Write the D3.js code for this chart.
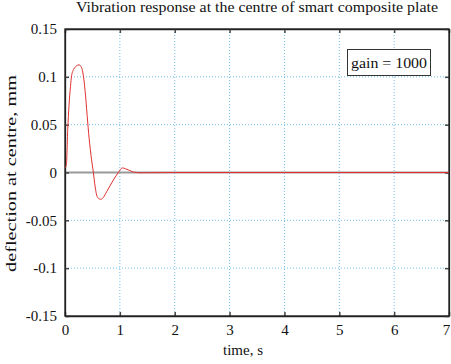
<!DOCTYPE html>
<html>
<head>
<meta charset="utf-8">
<script src="https://cdn.jsdelivr.net/npm/d3@7"></script>
<style>
  body { margin: 0; background: #fff; }
  text { font-family: "Liberation Serif", "DejaVu Serif", serif; fill: #111; }
</style>
</head>
<body>
<div id="chart"></div>
<script>
// values
const time = [0, 0.025, 0.05, 0.073, 0.1, 0.12, 0.16, 0.2, 0.255, 0.3, 0.335, 0.375, 0.413, 0.45, 0.474, 0.517, 0.55, 0.577, 0.61, 0.65, 0.7, 0.76, 0.82, 0.88, 0.93, 0.972, 1.01, 1.045, 1.1, 1.155, 1.2, 1.245, 1.3, 1.37, 1.5, 2, 3, 4, 5, 6, 7]
const deflection = [0.005, 0.0076, 0.045, 0.07, 0.09, 0.101, 0.108, 0.111, 0.1125, 0.11, 0.101, 0.08, 0.053, 0.03, 0.018, 0, -0.015, -0.0236, -0.027, -0.028, -0.026, -0.02, -0.014, -0.008, -0.0035, 0, 0.003, 0.0048, 0.004, 0.0027, 0.0015, 0.0005, 0, -0.0003, -0.0002, 0, 0, 0, 0, 0, 0]
const xTicks = [0, 1, 2, 3, 4, 5, 6, 7]
const yTicks = [-0.15, -0.1, -0.05, 0, 0.05, 0.1, 0.15]
const title = 'Vibration response at the centre of smart composite plate'
const legendText = 'gain = 1000'

const W = 451, H = 364
const m = { left: 65, right: 2, top: 29, bottom: 48 }

const svg = d3.select('#chart').append('svg')
  .attr('width', W)
  .attr('height', H)

const x = d3.scaleLinear().domain([0, 7]).range([m.left, W - m.right])
const y = d3.scaleLinear().domain([-0.15, 0.15]).range([H - m.bottom, m.top])

// grid
svg.append('g').selectAll('line')
  .data(xTicks.slice(1, -1))
  .enter().append('line')
  .attr('x1', d => x(d)).attr('x2', d => x(d))
  .attr('y1', y(0.15)).attr('y2', y(-0.15))
  .attr('stroke', '#6cc0ea').attr('stroke-width', 1).attr('stroke-dasharray', '1,2')
svg.append('g').selectAll('line')
  .data(yTicks.slice(1, -1))
  .enter().append('line')
  .attr('y1', d => y(d)).attr('y2', d => y(d))
  .attr('x1', x(0)).attr('x2', x(7))
  .attr('stroke', '#6cc0ea').attr('stroke-width', 1).attr('stroke-dasharray', '1,2')

// zero reference line
svg.append('line')
  .attr('x1', x(0)).attr('x2', x(7))
  .attr('y1', y(0)).attr('y2', y(0))
  .attr('stroke', '#999').attr('stroke-width', 2)

// axes with inner ticks
const fmtY = d => d === 0 ? '0' : String(d)
const fmtX = d => String(d)
const ax = [
  svg.append('g')
    .attr('transform', `translate(0,${y(-0.15)})`)
    .call(d3.axisBottom(x).tickValues(xTicks).tickSizeInner(-4).tickSizeOuter(0).tickPadding(8).tickFormat(fmtX)),
  svg.append('g')
    .attr('transform', `translate(0,${y(0.15)})`)
    .call(d3.axisTop(x).tickValues(xTicks).tickSizeInner(-4).tickSizeOuter(0).tickFormat('')),
  svg.append('g')
    .attr('transform', `translate(${x(0)},0)`)
    .call(d3.axisLeft(y).tickValues(yTicks).tickSizeInner(-4).tickSizeOuter(0).tickPadding(8).tickFormat(fmtY)),
  svg.append('g')
    .attr('transform', `translate(${x(7)},0)`)
    .call(d3.axisRight(y).tickValues(yTicks).tickSizeInner(-4).tickSizeOuter(0).tickFormat(''))
]
ax.forEach(g => g.attr('font-family', '"Liberation Serif", serif').attr('font-size', 15))
// last x label sits on the window edge, nudge it in
ax[0].selectAll('.tick text').filter(d => d === 7).attr('dx', -3)

svg.selectAll('.tick line').attr('stroke', '#444').attr('stroke-width', 1.5)
svg.selectAll('.domain').attr('stroke', '#222').attr('stroke-width', 1.3)
svg.selectAll('.tick text').attr('fill', '#111')

// frame
svg.append('rect')
  .attr('x', x(0)).attr('y', y(0.15))
  .attr('width', x(7) - x(0)).attr('height', y(-0.15) - y(0.15))
  .attr('fill', 'none').attr('stroke', '#222').attr('stroke-width', 1.3)

// response curve
const pts = time.map((t, i) => [t, deflection[i]])
const line = d3.line()
  .x(d => x(d[0]))
  .y(d => y(d[1]))
  .curve(d3.curveMonotoneX)
svg.append('path')
  .datum(pts)
  .attr('d', line)
  .attr('fill', 'none')
  .attr('stroke', '#e0312f')
  .attr('stroke-width', 1)

// legend
svg.append('rect')
  .attr('x', 347.5).attr('y', 49.5).attr('width', 83).attr('height', 26)
  .attr('fill', '#fff').attr('stroke', '#333').attr('stroke-width', 1)
svg.append('text')
  .attr('x', 389).attr('y', 67.5)
  .attr('text-anchor', 'middle')
  .style('font-size', '15px')
  .attr('textLength', 76).attr('lengthAdjust', 'spacingAndGlyphs')
  .text(legendText)

// titles
svg.append('text')
  .attr('x', (x(0) + x(7)) / 2).attr('y', 12)
  .attr('text-anchor', 'middle')
  .style('font-size', '14px')
  .attr('textLength', 362).attr('lengthAdjust', 'spacingAndGlyphs')
  .text(title)
svg.append('text')
  .attr('x', 243).attr('y', 355)
  .attr('text-anchor', 'middle')
  .style('font-size', '15px')
  .text('time, s')
svg.append('text')
  .attr('transform', `translate(16,${(y(0.15) + y(-0.15)) / 2 + 1}) rotate(-90)`)
  .attr('text-anchor', 'middle')
  .style('font-size', '15px')
  .attr('textLength', 197).attr('lengthAdjust', 'spacingAndGlyphs')
  .text('deflection at centre, mm')
</script>
</body>
</html>
